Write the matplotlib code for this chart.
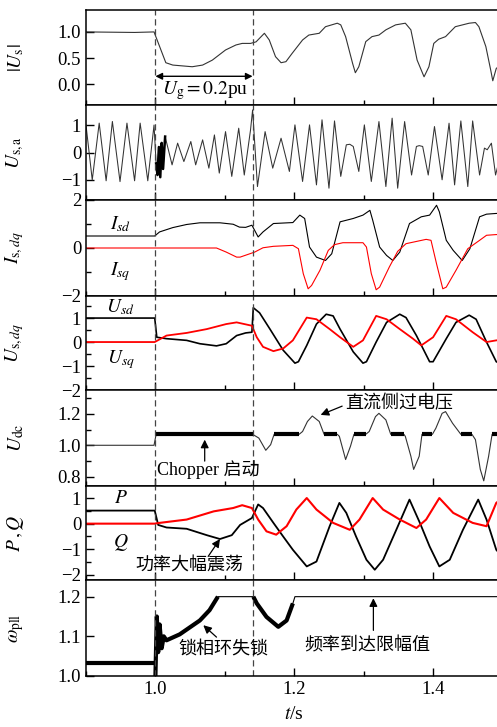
import numpy as np
import matplotlib.pyplot as plt
from matplotlib.ticker import MultipleLocator

plt.rcParams['font.family'] = ['Liberation Serif', 'Noto Sans CJK SC']
plt.rcParams['mathtext.fontset'] = 'stix'
plt.rcParams['axes.linewidth'] = 1.1

# |Us|
us_t = [0.900, 0.970, 0.998, 1.015, 1.025, 1.053, 1.068, 1.082, 1.101, 1.116, 1.125, 1.137, 1.145,
        1.157, 1.164, 1.173, 1.181, 1.188, 1.197, 1.212, 1.221, 1.236, 1.245, 1.262, 1.267, 1.274,
        1.284, 1.288, 1.293, 1.303, 1.312, 1.322, 1.332, 1.346, 1.360, 1.368, 1.377, 1.387, 1.394,
        1.401, 1.408, 1.418, 1.432, 1.452, 1.461, 1.466, 1.476, 1.483, 1.486, 1.491, 1.500]
us_v = [1.0, 0.99, 1.0, 0.41, 0.365, 0.333, 0.365, 0.46, 0.654, 0.75, 0.78, 0.78, 0.81,
        0.974, 0.846, 0.526, 0.41, 0.43, 0.59, 0.846, 0.94, 0.974, 1.10, 1.167, 1.135, 0.91,
        0.40, 0.218, 0.333, 0.814, 0.91, 0.94, 1.04, 1.135, 1.167, 1.04, 0.46, 0.14, 0.333,
        0.78, 0.86, 0.91, 1.10, 1.167, 1.18, 1.10, 0.72, 0.27, 0.064, 0.30, 0.40]

# Us,a  (extremes of each half cycle)
usa_t = [0.900, 0.909, 0.919, 0.929, 0.938, 0.949, 0.959, 0.970, 0.978, 0.989, 0.998,
         1.001, 1.003, 1.005, 1.007, 1.009, 1.011, 1.014, 1.024, 1.032, 1.041, 1.051, 1.058,
         1.068, 1.077, 1.085, 1.092, 1.101, 1.110, 1.120, 1.128, 1.137, 1.140, 1.147, 1.158,
         1.169, 1.181, 1.193, 1.201, 1.212, 1.222, 1.232, 1.240, 1.250, 1.258, 1.267, 1.275,
         1.280, 1.285, 1.293, 1.301, 1.311, 1.322, 1.332, 1.341, 1.349, 1.359, 1.369, 1.376,
         1.380, 1.385, 1.393, 1.402, 1.413, 1.423, 1.431, 1.440, 1.450, 1.457, 1.467, 1.474,
         1.478, 1.484, 1.490, 1.500]
usa_v = [1.0, -1.0, 1.07, -1.03, 1.13, -1.06, 1.07, -1.03, 1.07, -1.03, 1.0,
         -0.4, -0.82, 0.2, -0.9, 0.35, -0.6, 0.58, -0.45, 0.34, -0.33, 0.40, -0.45,
         0.46, -0.57, 0.64, -0.75, 0.76, -0.87, 0.885, -0.82, 0.82, 1.55, -1.24, 0.76,
         -0.57, 0.52, -0.69, 1.006, -1.055, 1.006, -1.18, 1.19, -1.30, 1.15, -0.87, 0.28,
         0.30, 0.22, -0.69, 1.006, -1.055, 1.127, -1.24, 1.25, -1.30, 1.127, -0.82, 0.22,
         0.25, 0.22, -0.82, 0.945, -0.994, 1.067, -1.18, 1.15, -1.24, 1.15, -0.82, 0.16,
         0.10, 0.34, -0.82, 0.2]

# Is,dq
isd_t = [0.900, 0.999, 1.006, 1.025, 1.045, 1.064, 1.093, 1.112, 1.121, 1.130, 1.139, 1.148,
         1.155, 1.170, 1.198, 1.208, 1.215, 1.222, 1.232, 1.245, 1.254, 1.266, 1.285, 1.299,
         1.309, 1.313, 1.323, 1.333, 1.342, 1.352, 1.366, 1.383, 1.395, 1.405, 1.409, 1.419,
         1.429, 1.442, 1.453, 1.467, 1.477, 1.491, 1.500]
isd_v = [0.5, 0.5, 0.67, 0.85, 0.98, 1.05, 1.05, 0.99, 0.87, 0.86, 0.95, 0.46,
         0.67, 1.02, 1.06, 1.37, 1.23, 0.04, -0.38, -0.52, -0.24, 1.09, 1.23, 1.37,
         1.57, 1.16, 0.04, -0.31, -0.52, -0.17, 1.02, 1.30, 1.37, 1.78, 1.51, 0.32,
         -0.1, -0.52, -0.03, 1.30, 1.41, 1.44, 1.44]
isq_t = [0.900, 1.088, 1.102, 1.117, 1.122, 1.136, 1.143, 1.155, 1.170, 1.198, 1.206, 1.213,
         1.220, 1.225, 1.237, 1.249, 1.258, 1.270, 1.299, 1.304, 1.311, 1.318, 1.323, 1.337,
         1.349, 1.361, 1.390, 1.397, 1.405, 1.414, 1.419, 1.433, 1.450, 1.467, 1.477, 1.491, 1.500]
isq_v = [0.0, 0.0, -0.17, -0.38, -0.38, -0.24, -0.17, 0.01, 0.07, 0.11, -0.03, -1.07,
         -1.70, -1.56, -0.93, -0.1, 0.14, 0.22, 0.22, 0.04, -1.07, -1.74, -1.63, -0.79,
         -0.14, 0.18, 0.36, 0.32, -0.66, -1.70, -1.63, -0.93, -0.03, 0.32, 0.53, 0.56, 0.56]

# Us,dq
usd_t = [0.900, 0.999, 1.002, 1.016, 1.045, 1.064, 1.088, 1.102, 1.117, 1.130, 1.139, 1.141,
         1.150, 1.165, 1.184, 1.201, 1.206, 1.218, 1.232, 1.246, 1.256, 1.266, 1.285, 1.299,
         1.304, 1.318, 1.333, 1.352, 1.361, 1.376, 1.395, 1.400, 1.419, 1.433, 1.452, 1.462,
         1.477, 1.491, 1.500]
usd_v = [1.0, 1.0, 0.2, 0.14, 0.07, -0.07, -0.16, -0.07, 0.27, 0.38, 0.41, 1.43,
         1.22, 0.54, -0.34, -0.88, -0.82, -0.14, 0.75, 1.16, 1.09, 0.54, -0.41, -0.88,
         -0.82, 0.0, 0.82, 1.16, 1.02, 0.27, -0.82, -0.82, 0.14, 0.82, 1.12, 0.95,
         0.0, -0.82, -0.95]
usq_t = [0.900, 0.999, 1.016, 1.045, 1.074, 1.102, 1.117, 1.139, 1.146, 1.155, 1.170, 1.184,
         1.198, 1.218, 1.232, 1.251, 1.266, 1.285, 1.299, 1.318, 1.333, 1.352, 1.371, 1.383,
         1.400, 1.419, 1.433, 1.457, 1.477, 1.491, 1.500]
usq_v = [0.0, 0.0, 0.27, 0.38, 0.54, 0.75, 0.82, 0.68, 0.2, -0.2, -0.38, -0.27,
         0.07, 1.02, 0.95, 0.54, 0.2, -0.2, 0.07, 1.09, 0.95, 0.54, 0.14, -0.14,
         0.2, 1.09, 0.95, 0.41, 0.0, 0.07, 0.1]

# Udc
udc_t = [0.900, 0.998, 1.001, 1.140, 1.149, 1.159, 1.166, 1.171, 1.207, 1.212, 1.219, 1.226,
         1.236, 1.243, 1.262, 1.265, 1.274, 1.281, 1.286, 1.303, 1.308, 1.317, 1.322, 1.332,
         1.339, 1.358, 1.360, 1.368, 1.372, 1.380, 1.384, 1.399, 1.404, 1.413, 1.418, 1.428,
         1.440, 1.456, 1.461, 1.468, 1.473, 1.480, 1.485, 1.500]
udc_v = [1.0, 1.0, 1.07, 1.07, 1.046, 0.968, 1.004, 1.07, 1.07, 1.088, 1.152, 1.187,
         1.152, 1.07, 1.07, 1.057, 0.909, 0.994, 1.07, 1.07, 1.088, 1.183, 1.204, 1.162,
         1.07, 1.07, 1.057, 0.93, 0.846, 0.93, 1.07, 1.07, 1.109, 1.204, 1.215, 1.141,
         1.07, 1.07, 1.036, 0.846, 0.773, 0.93, 1.07, 1.07]
chopper_on = [(1.001, 1.140), (1.171, 1.207), (1.243, 1.262), (1.286, 1.303),
              (1.339, 1.358), (1.384, 1.399), (1.440, 1.456), (1.485, 1.500)]

# P, Q
p_t = [0.900, 0.999, 1.004, 1.016, 1.045, 1.074, 1.093, 1.110, 1.122, 1.139, 1.148, 1.155,
       1.170, 1.184, 1.198, 1.218, 1.232, 1.251, 1.265, 1.275, 1.289, 1.304, 1.316, 1.328,
       1.347, 1.366, 1.381, 1.395, 1.409, 1.424, 1.443, 1.465, 1.477, 1.491, 1.500]
p_v = [0.51, 0.51, -0.05, -0.15, -0.2, -0.45, -0.6, -0.45, -0.05, 0.22, 0.75, 0.61,
       0.03, -0.5, -1.02, -1.67, -1.48, -0.1, 0.81, 0.42, -0.5, -1.41, -1.8, -1.41,
       -0.24, 0.94, 0.03, -0.89, -1.67, -1.41, -0.24, 0.94, 0.16, -1.02, -1.3]
q_t = [0.900, 0.999, 1.006, 1.045, 1.084, 1.112, 1.125, 1.139, 1.148, 1.160, 1.174, 1.189,
       1.203, 1.218, 1.232, 1.256, 1.280, 1.294, 1.313, 1.328, 1.352, 1.376, 1.390, 1.409,
       1.429, 1.457, 1.477, 1.491, 1.500]
q_v = [0.0, 0.0, 0.03, 0.16, 0.48, 0.61, 0.72, 0.61, 0.16, -0.3, -0.43, -0.1,
       0.55, 1.0, 0.55, 0.03, -0.24, 0.16, 1.0, 0.55, 0.16, -0.17, 0.16, 1.0,
       0.42, 0.03, -0.1, 0.81, 1.0]

# omega_pll
w_t = [0.900, 0.999, 1.000, 1.002, 1.004, 1.006, 1.009, 1.012, 1.016, 1.035, 1.064, 1.078,
       1.090, 1.141, 1.146, 1.160, 1.177, 1.189, 1.198, 1.201, 1.500]
w_v = [1.033, 1.033, 1.0, 1.15, 1.06, 1.13, 1.07, 1.10, 1.09, 1.105, 1.14, 1.166,
       1.2, 1.2, 1.183, 1.149, 1.124, 1.14, 1.183, 1.2, 1.2]
w_noisy = [(0.900, 0.999), (1.000, 1.090), (1.141, 1.200)]

fault_t = [1.0, 1.14]

fig = plt.figure(figsize=(4.97, 7.27), dpi=100)
H = 727.0
edges = [10, 105, 200, 296, 390, 486, 580, 676]
axs = []
for i in range(7):
    ax = fig.add_axes([86/497, 1 - edges[i+1]/H, (502.5-86)/497, (edges[i+1]-edges[i])/H])
    axs.append(ax)

def sub(t, v, a, b):
    # punkter inom intervallet [a, b]
    t = np.array(t); v = np.array(v)
    m = (t >= a) & (t <= b)
    return t[m], v[m]

lw = 0.8
axs[0].plot(us_t, us_v, color='#333333', lw=lw)
axs[1].plot(usa_t, usa_v, color='#333333', lw=0.75)
axs[1].plot(*sub(usa_t, usa_v, 1.0, 1.015), color='k', lw=1.8)
axs[2].plot(isd_t, isd_v, color='k', lw=lw)
axs[2].plot(isq_t, isq_v, color='red', lw=lw)
axs[3].plot(usd_t, usd_v, color='k', lw=1.2)
axs[3].plot(usq_t, usq_v, color='red', lw=1.3)
axs[4].plot(udc_t, udc_v, color='#333333', lw=lw)
for a, b in chopper_on:
    axs[4].plot(*sub(udc_t, udc_v, a, b), color='k', lw=3.0, solid_capstyle='butt')
axs[5].plot(p_t, p_v, color='k', lw=1.3)
axs[5].plot(q_t, q_v, color='red', lw=1.5)
axs[6].plot(w_t, w_v, color='k', lw=lw)
for a, b in w_noisy:
    axs[6].plot(*sub(w_t, w_v, a, b), color='k', lw=3.0, solid_capstyle='butt')

ylims = [(-0.40, 1.42), (-1.73, 1.73), (-2, 2), (-2, 1.92), (0.74, 1.353), (-2.2, 1.47), (1.0, 1.242)]
yt = [[0.0, 0.5, 1.0], [-1, 0, 1], [-2, 0, 2], [-2, -1, 0, 1], [0.8, 1.0, 1.2], [-2, -1, 0, 1], [1.0, 1.1, 1.2]]
ymin = [None, None, 1, 0.5, 0.1, 0.5, None]
ylabels = [r'$|U_{\rm s}|$', r'$U_{\rm s,a}$', r'$I_{{\rm s},dq}$', r'$U_{{\rm s},dq}$',
           r'$U_{\rm dc}$', r'$P\,,Q$', r'$\omega_{\rm pll}$']
for i, ax in enumerate(axs):
    ax.set_xlim(0.9, 1.5)
    ax.set_ylim(*ylims[i])
    ax.set_yticks(yt[i])
    if ymin[i]:
        ax.yaxis.set_minor_locator(MultipleLocator(ymin[i]))
    ax.xaxis.set_major_locator(MultipleLocator(0.2))
    ax.xaxis.set_minor_locator(MultipleLocator(0.1))
    ax.tick_params(which='both', direction='in', labelsize=13.5, width=1.0)
    ax.tick_params(which='major', length=6)
    ax.tick_params(which='minor', length=3.5)
    ax.set_ylabel(ylabels[i], fontsize=14)
    ax.yaxis.set_label_coords(-0.145, 0.5)
    if i < 6:
        ax.set_xticklabels([])
    for ft in fault_t:
        ax.axvline(ft, color='#444444', lw=0.9, ls=(0, (5, 3)))
    ax.spines['right'].set_visible(False)

axs[6].set_xlabel(r'$t$/s', fontsize=14, labelpad=6)

arw = dict(arrowstyle='-|>', color='k', lw=0.9, mutation_scale=12, shrinkA=0, shrinkB=0)
fs = 13
axs[0].annotate('', xy=(1.0, 0.15), xytext=(1.14, 0.15),
                arrowprops=dict(arrowstyle='<|-|>', color='k', lw=1.0, mutation_scale=10,
                                shrinkA=0, shrinkB=0))
axs[0].text(1.010, -0.12, r'$U_{\rm g}=0.2$pu', fontsize=14, va='center')

axs[2].text(0.95, 1.0, r'$I_{sd}$', fontsize=14, ha='center', va='center')
axs[2].text(0.95, -0.98, r'$I_{sq}$', fontsize=14, ha='center', va='center')
axs[3].text(0.95, 1.44, r'$U_{sd}$', fontsize=14, ha='center', va='center')
axs[3].text(0.95, -0.72, r'$U_{sq}$', fontsize=14, ha='center', va='center')

axs[4].annotate('', xy=(1.071, 1.036), xytext=(1.071, 0.899), arrowprops=arw)
axs[4].text(1.003, 0.846, 'Chopper 启动', fontsize=fs, va='center')
axs[4].annotate('', xy=(1.238, 1.194), xytext=(1.269, 1.25), arrowprops=arw)
axs[4].text(1.274, 1.267, '直流侧过电压', fontsize=fs, va='center')

axs[5].text(0.95, 1.0, r'$P$', fontsize=14, ha='center', va='center')
axs[5].text(0.95, -0.75, r'$Q$', fontsize=14, ha='center', va='center')
axs[5].annotate('', xy=(1.093, -0.6), xytext=(1.076, -1.28), arrowprops=arw)
axs[5].text(0.9705, -1.61, '功率大幅震荡', fontsize=fs, va='center')

axs[6].annotate('', xy=(1.069, 1.128), xytext=(1.088, 1.098), arrowprops=arw)
axs[6].text(1.033, 1.069, '锁相环失锁', fontsize=fs, va='center')
axs[6].annotate('', xy=(1.314, 1.196), xytext=(1.314, 1.115), arrowprops=arw)
axs[6].text(1.215, 1.077, '频率到达限幅值', fontsize=fs, va='center')

fig.savefig('out.png', dpi=100)
